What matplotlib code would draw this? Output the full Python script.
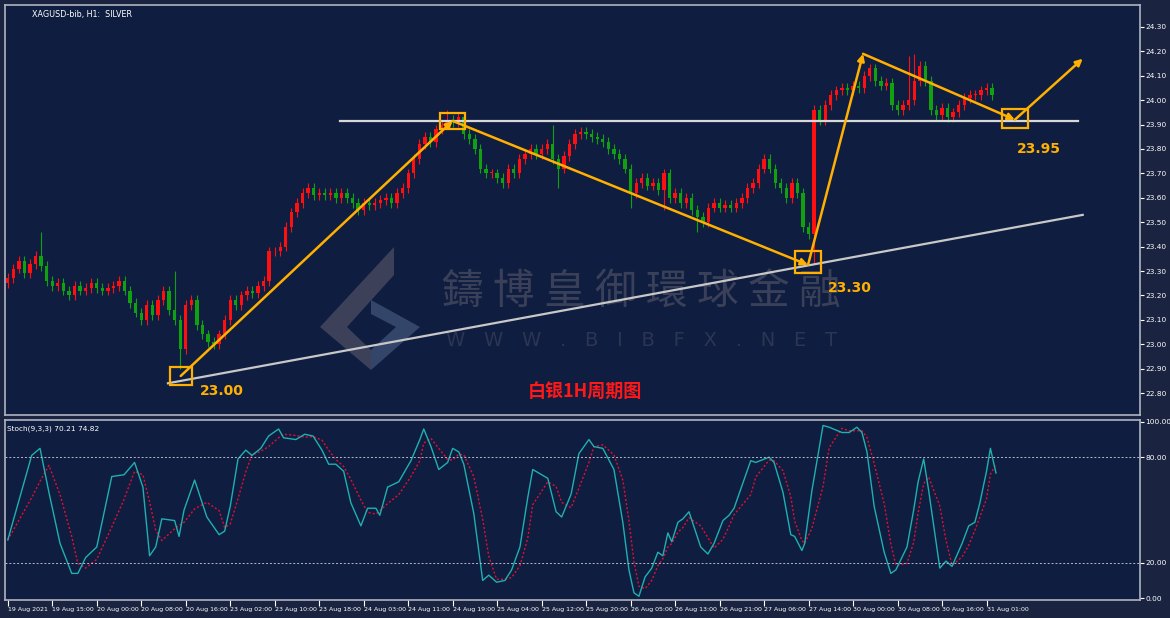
import numpy as np
import pandas as pd
import matplotlib
matplotlib.use("Agg")
import matplotlib.pyplot as plt
from matplotlib.patches import Rectangle, Polygon

plt.rcParams['font.family'] = ['DejaVu Sans', 'Noto Sans CJK SC']

# ---------------- data ----------------
closes = [23.27,23.31,23.34,23.29,23.33,23.36,23.32,
          23.26,23.24,23.25,23.22,23.20,23.24,23.22,23.23,23.25,23.23,23.22,23.23,23.24,23.26,23.22,23.17,23.13,23.10,
          23.16,23.12,23.18,23.22,23.14,23.10,22.98,23.16,23.18,23.08,23.04,23.01,23.00,
          23.04,23.10,23.18,23.16,23.20,23.22,23.21,23.24,23.26,23.38,23.38,23.40,23.48,23.54,23.58,23.62,
          23.64,23.61,23.62,23.61,23.62,23.60,23.62,23.60,23.58,23.55,23.58,23.57,23.58,23.59,23.60,23.58,23.62,23.64,23.70,23.76,23.82,
          23.85,23.83,23.88,23.90,23.92,23.91,23.93,23.86,23.84,23.80,
          23.72,23.70,23.70,23.68,23.66,23.72,23.70,23.76,23.78,23.80,23.78,23.80,23.82,23.76,23.72,23.77,23.82,23.86,
          23.87,23.86,23.85,23.84,23.83,23.80,23.78,23.76,23.72,23.62,23.66,23.68,23.65,23.66,23.63,
          23.70,23.60,23.62,23.58,23.60,23.55,23.52,23.50,23.56,23.58,23.56,23.57,23.56,23.58,23.60,23.64,23.66,23.72,23.76,23.72,23.66,23.64,23.60,23.66,23.62,23.48,
          23.45,
          23.96,
          23.92,23.98,24.02,24.04,24.05,24.04,24.06,24.05,24.10,24.13,24.08,24.06,24.07,23.98,23.96,23.98,24.00,24.08,24.14,24.08,23.96,23.94,23.97,23.93,23.95,23.98,24.01,24.02,24.02,24.04,24.05,24.02]
first_open = 23.25
high_override = {6: 23.46, 79: 23.96, 162: 24.18, 163: 24.19, 30: 23.30, 98: 23.90}
low_override = {31: 22.90, 124: 23.46, 145: 23.33, 112: 23.56, 118: 23.55, 99: 23.64}

stoch_bar = [0,4.3,5.8,7.4,9.4,11.5,12.6,14,16,18.7,20.9,22.8,24.3,25.5,26.6,27.7,30,30.8,31.7,33.6,35.8,38,39,40,41.4,42.8,43.9,45.5,46.9,48.7,49.6,51.8,53.4,54.9,56.5,57.7,59,60.4,61.7,63.5,64.7,66.2,66.9,68.3,70.3,72.5,74.1,74.8,76.1,77.5,79.1,80,81.1,82,83.8,85.4,86.5,87.9,89.4,90.6,92.1,93.5,94.4,97.1,98.6,99.6,101.3,102.7,104.5,105.4,107,109,110.6,111.7,112.6,113.5,114.6,115.8,116.9,117.8,118.7,119.4,120.5,121.4,122.5,124.6,125.9,127,128.6,129.7,130.6,133.6,134.5,136.9,137.8,139.4,140.8,141.5,142.8,143.3,144.6,146.6,147.7,150,151.3,152.7,153.6,154.5,155.8,157.6,158.8,159.7,161.7,162.9,163.7,164.7,165.6,167.6,168.7,169.8,171.6,172.8,173.9,174.8,176,176.7,177.7]
stoch_k = [33,81,85,60,31,14,14,23,29,69,70,77,63,24,29,45,44,35,50,67,46,36,38,52,79,84,81,85,92,96,91,90,93,92,84,76,76,72,54,41,51,51,47,63,66,78,90,96,86,73,77,85,83,76,48,10,13,9,10,16,29,57,73,68,49,46,59,82,90,86,85,73,43,16,3,1,12,17,26,24,37,32,43,45,49,29,25,31,44,47,51,78,77,80,77,60,36,35,27,31,61,98,97,94,94,97,94,83,52,26,14,16,29,50,66,79,61,17,21,18,31,41,43,54,72,85,71]

tick_labels = ["19 Aug 2021","19 Aug 15:00","20 Aug 00:00","20 Aug 08:00","20 Aug 16:00","23 Aug 02:00",
               "23 Aug 10:00","23 Aug 18:00","24 Aug 03:00","24 Aug 11:00","24 Aug 19:00","25 Aug 04:00",
               "25 Aug 12:00","25 Aug 20:00","26 Aug 05:00","26 Aug 13:00","26 Aug 21:00","27 Aug 06:00",
               "27 Aug 14:00","30 Aug 00:00","30 Aug 08:00","30 Aug 16:00","31 Aug 01:00"]
price_ticks = [22.80,22.90,23.00,23.10,23.20,23.30,23.40,23.50,23.60,23.70,23.80,23.90,24.00,24.10,24.20,24.30]

# annotations (bar index, price)
zigzag = [(31.1,22.87),(80.0,23.915),(143.9,23.325),(153.8,24.19),(181.1,23.92),(193.3,24.17)]
boxes = [(31.1,22.87,4.0,0.075),(80.0,23.915,4.6,0.065),(143.9,23.335,4.6,0.09),(181.1,23.925,4.6,0.08)]
resist = (59.7,192.5,23.915)
trend = [(28.8,22.84),(193.3,23.53)]
labels = [(34.5,22.81,"23.00"),(147.5,23.23,"23.30"),(181.5,23.80,"23.95")]

# ---------------- plot ----------------
BG = '#0f1d40'
fig = plt.figure(figsize=(11.7,6.18), dpi=100, facecolor='#1a2440')
W, H = 1170, 618
ax = fig.add_axes([5/W, 1-415/H, 1135/W, 410/H], facecolor=BG)
ax2 = fig.add_axes([5/W, 1-600/H, 1135/W, 180/H], facecolor=BG, sharex=ax)

def axp(px, py):
    return ((px-5)/1135, (415-py)/410)

# watermark (behind)
ax.text(axp(641,0)[0], axp(0,293)[1], "鑄 博 皇 御 環 球 金 融", transform=ax.transAxes, fontsize=30,
        color='#3a4058', ha='center', va='center', family=['Noto Sans CJK TC'], zorder=0)
ax.text(axp(641,0)[0], axp(0,341)[1], "W   W   W   .   B   I   B   F   X   .   N   E   T",
        transform=ax.transAxes, fontsize=14, color='#2c3552', ha='center', va='center', zorder=0)
ax.add_patch(Polygon([axp(*p) for p in [(394,247),(394,275),(347,327),(371,350),(371,370),(320,327)]],
                     closed=True, transform=ax.transAxes, color='#3c4058', lw=0, zorder=0))
ax.add_patch(Polygon([axp(*p) for p in [(371,300),(420,327),(371,370),(371,350),(396,327),(371,314)]],
                     closed=True, transform=ax.transAxes, color='#34456a', lw=0, zorder=0))

opens = [first_open] + closes[:-1]
n = len(closes)
for i in range(n):
    o, c = opens[i], closes[i]
    hi = high_override.get(i, max(o, c) + 0.02)
    lo = low_override.get(i, min(o, c) - 0.02)
    col = '#ff1010' if c >= o else '#10a010'
    ax.vlines(i, lo, hi, color=col, lw=0.8, zorder=2)
    ax.add_patch(Rectangle((i-0.3, min(o, c)), 0.6, max(abs(c-o), 0.004), color=col, lw=0, zorder=2))

ax.set_xlim(-0.5, 203.6)
ax.set_ylim(22.71, 24.39)

# lines
ax.plot([resist[0], resist[1]], [resist[2]]*2, color='#d8d8d8', lw=1.6, zorder=3)
ax.plot([p[0] for p in trend], [p[1] for p in trend], color='#c8c8c8', lw=1.6, zorder=3)
for (x0,y0),(x1,y1) in zip(zigzag[:-1], zigzag[1:]):
    ax.annotate("", xy=(x1,y1), xytext=(x0,y0), zorder=4,
                arrowprops=dict(arrowstyle='-|>', color='#ffb000', lw=1.8, mutation_scale=10, shrinkA=0, shrinkB=0))
for (xc,yc,w,h) in boxes:
    ax.add_patch(Rectangle((xc-w/2, yc-h/2), w, h, fill=False, ec='#ffb000', lw=1.6, zorder=4))
for (x,y,t) in labels:
    ax.text(x, y, t, color='#ffb000', fontsize=10, fontweight='bold', ha='left', va='center', zorder=5)
ax.text(axp(585,0)[0], axp(0,391)[1], "白银1H周期图", transform=ax.transAxes, color='#ff1818', fontsize=13,
        fontweight='bold', ha='center', va='center', family=['Noto Sans CJK SC'])
ax.text(0.024, 0.988, "XAGUSD-bib, H1:  SILVER", transform=ax.transAxes, color='white', fontsize=5.8,
        ha='left', va='top')

# stochastic
k = pd.Series(stoch_k, dtype=float)
d = k.rolling(3, min_periods=1).mean()
ax2.plot(stoch_bar, d, color='#e01030', lw=1.0, ls=(0,(1.5,1.5)))
ax2.plot(stoch_bar, k, color='#20b0b0', lw=1.0)
for lvl in (80, 20):
    ax2.axhline(lvl, color='#b8b8c8', lw=0.7, ls=(0,(2,2)))
ax2.set_ylim(-1.1, 101.1)
ax2.text(0.002, 0.97, "Stoch(9,3,3) 70.21 74.82", transform=ax2.transAxes, color='white', fontsize=5.3,
         ha='left', va='top')

for a in (ax, ax2):
    a.yaxis.tick_right()
    a.tick_params(axis='y', colors='white', labelsize=5.3, length=3, direction='out', pad=1)
    for s in a.spines.values():
        s.set_color('#b0b4c0'); s.set_linewidth(1.2)
ax.set_yticks(price_ticks)
ax.set_yticklabels([f"{p:.2f}" for p in price_ticks])
ax2.set_yticks([0, 20, 80, 100])
ax2.set_yticklabels(["0.00", "20.00", "80.00", "100.00"])
ax.tick_params(axis='x', bottom=False, labelbottom=False)
ax2.set_xticks(np.arange(len(tick_labels))*8)
ax2.set_xticklabels(tick_labels, ha='left')
ax2.tick_params(axis='x', colors='white', labelsize=4.5, length=4, direction='out', pad=1)

fig.savefig("out.png", dpi=100, facecolor=fig.get_facecolor())
